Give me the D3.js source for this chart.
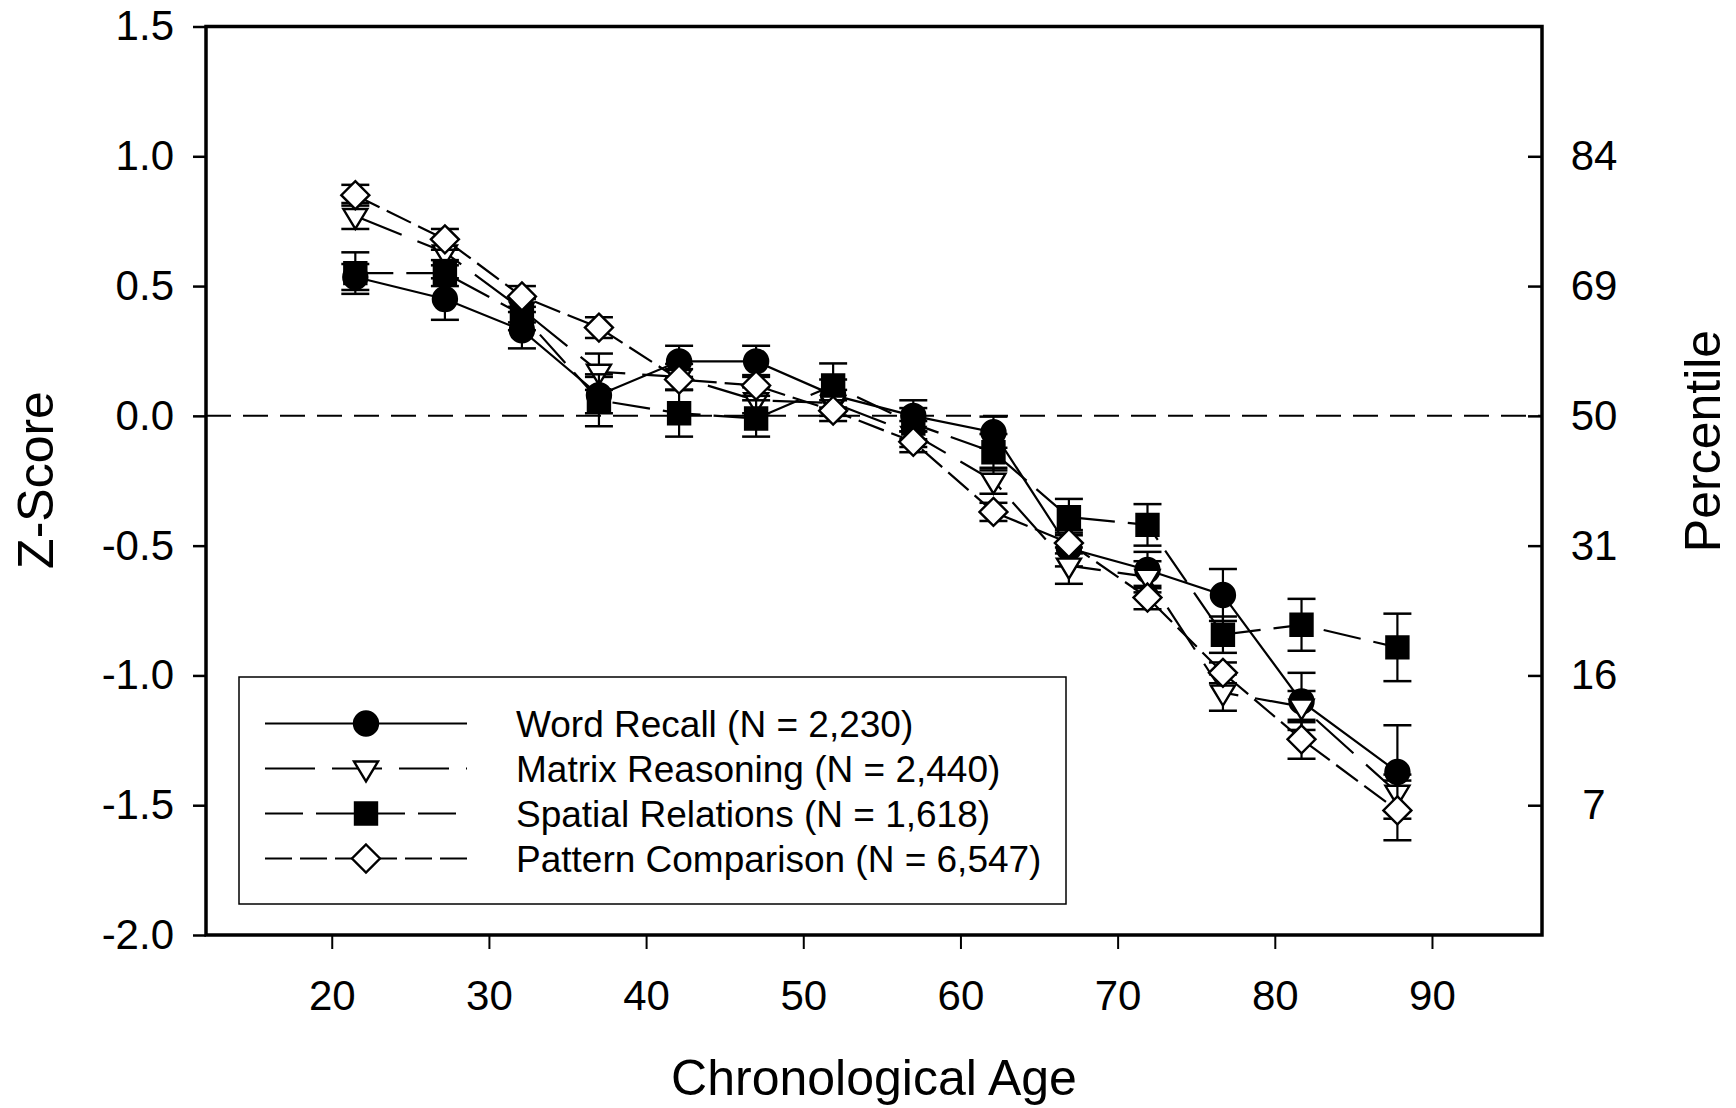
<!DOCTYPE html>
<html>
<head>
<meta charset="utf-8">
<script src="https://cdn.jsdelivr.net/npm/d3@7"></script>
<style>
  body { margin: 0; background: #fff; }
  svg { display: block; font-family: "Liberation Sans", Arial, sans-serif; }
</style>
</head>
<body>
<svg id="chart" width="1736" height="1108"></svg>
<script>
///////////////////////////////////////////
// data

var ages = [21.5, 27.2, 32.1, 37.0, 42.1, 47.0, 51.9, 57.0, 62.1, 66.9, 71.9, 76.7, 81.7, 87.8];

var wordRecall   = [0.535, 0.45, 0.33, 0.08, 0.21, 0.21, 0.08, 0.0, -0.063, -0.51, -0.594, -0.69, -1.10, -1.372];
var wordRecallSE = [0.05, 0.08, 0.07, 0.07, 0.06, 0.06, 0.06, 0.06, 0.06, 0.07, 0.07, 0.10, 0.11, 0.18];

var matrixReas   = [0.77, 0.63, 0.41, 0.17, 0.15, 0.06, 0.05, -0.07, -0.25, -0.577, -0.62, -1.066, -1.12, -1.452];
var matrixReasSE = [0.05, 0.05, 0.05, 0.07, 0.05, 0.05, 0.05, 0.05, 0.05, 0.07, 0.06, 0.07, 0.06, 0.07];

var spatialRel   = [0.55, 0.55, 0.39, 0.06, 0.01, -0.01, 0.117, -0.03, -0.14, -0.39, -0.42, -0.843, -0.805, -0.892];
var spatialRelSE = [0.08, 0.05, 0.06, 0.10, 0.09, 0.07, 0.085, 0.06, 0.07, 0.07, 0.08, 0.07, 0.10, 0.13];

var patternComp   = [0.85, 0.68, 0.46, 0.34, 0.14, 0.117, 0.02, -0.10, -0.37, -0.49, -0.70, -0.99, -1.246, -1.52];
var patternCompSE = [0.04, 0.04, 0.04, 0.04, 0.04, 0.04, 0.04, 0.04, 0.035, 0.04, 0.045, 0.04, 0.075, 0.115];

var legendLabels = ["Word Recall (N = 2,230)", "Matrix Reasoning (N = 2,440)",
    "Spatial Relations (N = 1,618)", "Pattern Comparison (N = 6,547)"];

var xTicks = [20, 30, 40, 50, 60, 70, 80, 90];
var yTicks = [-2.0, -1.5, -1.0, -0.5, 0.0, 0.5, 1.0, 1.5];
var pctTicks = [1.0, 0.5, 0.0, -0.5, -1.0, -1.5];
var pctLabels = ["84", "69", "50", "31", "16", "7"];

///////////////////////////////////////////

let svg = d3.select("#chart");

let pLeft = 206, pRight = 1542, pTop = 26.5, pBottom = 935;

let x = d3.scaleLinear().domain([12, 97]).range([pLeft, pRight]);
let y = d3.scaleLinear().domain([-2, 1.5]).range([pBottom, pTop]);

// custom marker shapes (size = width in px)
let triDown = {draw(ctx, s){
    ctx.moveTo(-s/2, -s*0.29);
    ctx.lineTo(s/2, -s*0.29);
    ctx.lineTo(0, s*0.54);
    ctx.closePath();
}};
let diamond = {draw(ctx, s){
    ctx.moveTo(0, -s/2);
    ctx.lineTo(s/2, 0);
    ctx.lineTo(0, s/2);
    ctx.lineTo(-s/2, 0);
    ctx.closePath();
}};
let square = {draw(ctx, s){
    ctx.rect(-s/2, -s/2, s, s);
}};
let circle = {draw(ctx, s){
    ctx.moveTo(s/2, 0);
    ctx.arc(0, 0, s/2, 0, 2*Math.PI);
}};

let series = [
    {name: legendLabels[0], vals: wordRecall, se: wordRecallSE, shape: circle, size: 24, fill: "#000", dash: null},
    {name: legendLabels[1], vals: matrixReas, se: matrixReasSE, shape: triDown, size: 24, fill: "#fff", dash: "50,17"},
    {name: legendLabels[2], vals: spatialRel, se: spatialRelSE, shape: square, size: 22, fill: "#000", dash: "38,13"},
    {name: legendLabels[3], vals: patternComp, se: patternCompSE, shape: diamond, size: 28, fill: "#fff", dash: "27,8"}
];

// zero reference line
svg.append("line")
    .attr("x1", pLeft).attr("x2", pRight)
    .attr("y1", y(0)).attr("y2", y(0))
    .attr("stroke", "#000")
    .attr("stroke-width", 2)
    .attr("stroke-dasharray", "25,12");

// left axis
let yAxis = svg.append("g")
    .attr("transform", "translate(" + pLeft + ",0)")
    .call(d3.axisLeft(y).tickValues(yTicks).tickSize(13).tickPadding(32)
        .tickFormat(d => d.toFixed(1)));
yAxis.select(".domain").remove();
yAxis.selectAll("line").attr("stroke-width", 2.5);
yAxis.selectAll("text")
    .attr("x", -32)
    .attr("font-size", 42)
    .attr("font-family", "Liberation Sans, Arial, sans-serif");

// right axis (percentile), ticks point inward
let pAxis = svg.append("g")
    .attr("transform", "translate(" + pRight + ",0)")
    .call(d3.axisRight(y).tickValues(pctTicks).tickSize(-14)
        .tickFormat((d, i) => pctLabels[i]));
pAxis.select(".domain").remove();
pAxis.selectAll("line").attr("stroke-width", 2.5);
pAxis.selectAll("text")
    .attr("x", 52)
    .attr("text-anchor", "middle")
    .attr("font-size", 42)
    .attr("font-family", "Liberation Sans, Arial, sans-serif");

// bottom axis
let xAxis = svg.append("g")
    .attr("transform", "translate(0," + pBottom + ")")
    .call(d3.axisBottom(x).tickValues(xTicks).tickSize(14));
xAxis.select(".domain").remove();
xAxis.selectAll("line").attr("stroke-width", 2);
xAxis.selectAll("text")
    .attr("y", 75)
    .attr("dy", 0)
    .attr("font-size", 42)
    .attr("font-family", "Liberation Sans, Arial, sans-serif");

// frame
svg.append("rect")
    .attr("x", pLeft).attr("y", pTop)
    .attr("width", pRight - pLeft).attr("height", pBottom - pTop)
    .attr("fill", "none")
    .attr("stroke", "#000")
    .attr("stroke-width", 3.5);

// axis titles
svg.append("text")
    .attr("x", (pLeft + pRight) / 2).attr("y", 1095)
    .attr("text-anchor", "middle")
    .attr("font-size", 50)
    .text("Chronological Age");
svg.append("text")
    .attr("transform", "translate(53,480) rotate(-90)")
    .attr("text-anchor", "middle")
    .attr("font-size", 50)
    .text("Z-Score");
svg.append("text")
    .attr("transform", "translate(1720,441) rotate(-90)")
    .attr("text-anchor", "middle")
    .attr("font-size", 50)
    .text("Percentile");

// series: line, error bars, symbols
let line = d3.line().x(d => x(d.age)).y(d => y(d.v));

for (let s of series){
    let pts = ages.map((a, i) => ({age: a, v: s.vals[i], se: s.se[i]}));
    let g = svg.append("g");

    g.append("path")
        .datum(pts)
        .attr("d", line)
        .attr("fill", "none")
        .attr("stroke", "#000")
        .attr("stroke-width", 2.2)
        .attr("stroke-dasharray", s.dash);

    let eb = g.selectAll(".eb").data(pts).enter().append("g");
    eb.append("line")
        .attr("x1", d => x(d.age)).attr("x2", d => x(d.age))
        .attr("y1", d => y(d.v - d.se)).attr("y2", d => y(d.v + d.se))
        .attr("stroke", "#000").attr("stroke-width", 2.2);
    eb.append("line")
        .attr("x1", d => x(d.age) - 14).attr("x2", d => x(d.age) + 14)
        .attr("y1", d => y(d.v + d.se)).attr("y2", d => y(d.v + d.se))
        .attr("stroke", "#000").attr("stroke-width", 2.5);
    eb.append("line")
        .attr("x1", d => x(d.age) - 14).attr("x2", d => x(d.age) + 14)
        .attr("y1", d => y(d.v - d.se)).attr("y2", d => y(d.v - d.se))
        .attr("stroke", "#000").attr("stroke-width", 2.5);

    g.selectAll(".sym").data(pts).enter().append("path")
        .attr("d", d3.symbol().type(s.shape).size(s.size))
        .attr("transform", d => "translate(" + x(d.age) + "," + y(d.v) + ")")
        .attr("fill", s.fill)
        .attr("stroke", "#000")
        .attr("stroke-width", 2.4);
}

// legend
svg.append("rect")
    .attr("x", 239).attr("y", 677)
    .attr("width", 827).attr("height", 227)
    .attr("fill", "none")
    .attr("stroke", "#000")
    .attr("stroke-width", 1.5);

let leg = svg.selectAll(".leg").data(series).enter().append("g")
    .attr("transform", (d, i) => "translate(0," + (723.5 + i * 45) + ")");
leg.append("line")
    .attr("x1", 265).attr("x2", 467)
    .attr("stroke", "#000")
    .attr("stroke-width", 2.2)
    .attr("stroke-dasharray", d => d.dash);
leg.append("path")
    .attr("d", d => d3.symbol().type(d.shape).size(d.size)())
    .attr("transform", "translate(366,0)")
    .attr("fill", d => d.fill)
    .attr("stroke", "#000")
    .attr("stroke-width", 2.4);
leg.append("text")
    .attr("x", 516).attr("y", 13.3)
    .attr("font-size", 37)
    .text(d => d.name);
</script>
</body>
</html>
